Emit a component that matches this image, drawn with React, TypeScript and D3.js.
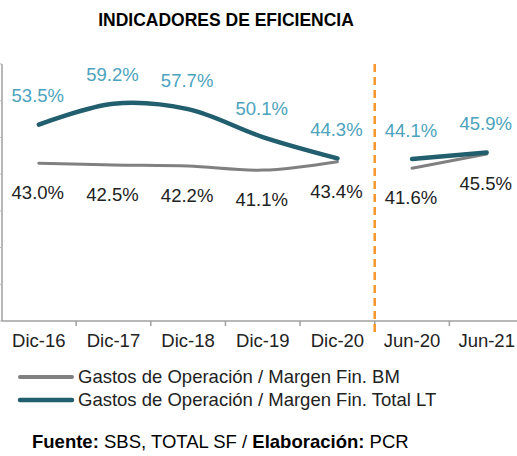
import React from "react";
import * as d3 from "d3";

const categories = ["Dic-16", "Dic-17", "Dic-18", "Dic-19", "Dic-20", "Jun-20", "Jun-21"];
const bmValues = [43.0, 42.5, 42.2, 41.1, 43.4, 41.6, 45.5];
const totalValues = [53.5, 59.2, 57.7, 50.1, 44.3, 44.1, 45.9];
const seriesNames = ["Gastos de Operación / Margen Fin. BM", "Gastos de Operación / Margen Fin. Total LT"];
const segments = [[0, 4], [5, 6]];
const yTicks = [0, 10, 20, 30, 40, 50, 60, 70];

const W = 517, H = 456;
const FONT = "'Liberation Sans', Arial, sans-serif";
const TEAL = "#215E6E";
const TEAL_LABEL = "#4BA3BD";
const GRAY = "#808080";
const ORANGE = "#F7962B";
const FS = 18.5;

export default function App() {
  const x = d3.scaleBand<string>().domain(categories).range([1.5, 524]).padding(0);
  const y = d3.scaleLinear().domain([0, 70]).range([321, 64]);
  const cx = (i: number) => (x(categories[i]) as number) + x.bandwidth() / 2;

  const pathFor = (vals: number[], seg: number[]) => {
    const idx = d3.range(seg[0], seg[1] + 1);
    const gen = d3
      .line<number>()
      .x((i) => cx(i))
      .y((i) => y(vals[i]))
      .curve(d3.curveCatmullRom.alpha(0.5));
    return gen(idx) || "";
  };

  const sepX = x(categories[5]) as number;
  const axisY = y(0);

  return (
    <svg width={W} height={H} style={{ position: "absolute", left: 0, top: 0, background: "#fff" }} fontFamily={FONT}>
      <text x={226} y={26} textAnchor="middle" fontWeight="bold" fontSize={17.5} fill="#000">
        INDICADORES DE EFICIENCIA
      </text>

      {/* y axis */}
      <line x1={2} x2={2} y1={y(70)} y2={axisY} stroke="#a0a0a0" strokeWidth={1.5} />
      {yTicks.map((t) => (
        <line key={t} x1={0} x2={2} y1={y(t)} y2={y(t)} stroke="#bbb" strokeWidth={1} />
      ))}

      {/* x axis */}
      <line x1={1.5} x2={524} y1={axisY} y2={axisY} stroke="#a0a0a0" strokeWidth={1.5} />
      {categories.map((c, i) =>
        i === 0 ? null : (
          <line key={c} x1={x(c) as number} x2={x(c) as number} y1={axisY} y2={axisY + 5} stroke="#a0a0a0" strokeWidth={1.5} />
        )
      )}
      {categories.map((c, i) => (
        <text key={c} x={cx(i)} y={347} textAnchor="middle" fontSize={FS} fill="#222">
          {c}
        </text>
      ))}

      {/* separator */}
      <line x1={sepX} x2={sepX} y1={64} y2={333} stroke={ORANGE} strokeWidth={2.5} strokeDasharray="8,5" />

      {/* lines */}
      {segments.map((s, k) => (
        <path key={"bm" + k} d={pathFor(bmValues, s)} fill="none" stroke={GRAY} strokeWidth={3} strokeLinecap="round" />
      ))}
      {segments.map((s, k) => (
        <path key={"tot" + k} d={pathFor(totalValues, s)} fill="none" stroke={TEAL} strokeWidth={4.5} strokeLinecap="round" />
      ))}

      {/* labels */}
      {totalValues.map((v, i) => (
        <text key={"tl" + i} x={cx(i) - 1} y={y(v) - 22.5} textAnchor="middle" fontSize={FS} fill={TEAL_LABEL}>
          {v.toFixed(1)}%
        </text>
      ))}
      {bmValues.map((v, i) => (
        <text key={"bl" + i} x={cx(i) - 1} y={y(v) + 36} textAnchor="middle" fontSize={FS} fill="#222">
          {v.toFixed(1)}%
        </text>
      ))}

      {/* legend */}
      <line x1={20} x2={72} y1={377} y2={377} stroke={GRAY} strokeWidth={4} strokeLinecap="round" />
      <text x={78} y={383} fontSize={FS} fill="#222">{seriesNames[0]}</text>
      <line x1={20} x2={72} y1={400} y2={400} stroke={TEAL} strokeWidth={4.5} strokeLinecap="round" />
      <text x={78} y={406} fontSize={FS} fill="#222">{seriesNames[1]}</text>

      {/* footer */}
      <text x={32} y={448} fontSize={FS} fill="#000">
        <tspan fontWeight="bold">Fuente:</tspan>
        <tspan> SBS, TOTAL SF / </tspan>
        <tspan fontWeight="bold">Elaboración:</tspan>
        <tspan> PCR</tspan>
      </text>
    </svg>
  );
}
